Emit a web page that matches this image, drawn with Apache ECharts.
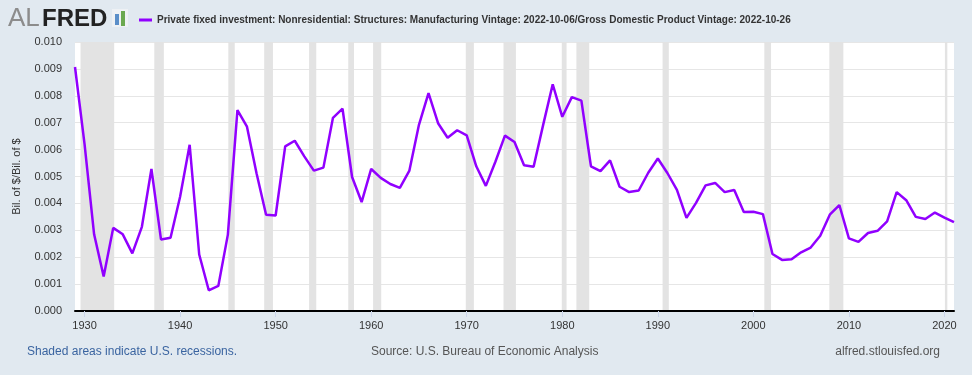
<!DOCTYPE html>
<html>
<head>
<meta charset="utf-8">
<script src="https://cdn.jsdelivr.net/npm/echarts@6/dist/echarts.min.js"></script>
<style>
  html, body { margin: 0; padding: 0; background: #e1e9f0; }
  #chart { width: 972px; height: 375px; }
</style>
</head>
<body>
<div id="chart"></div>
<script>
const seriesName = "Private fixed investment: Nonresidential: Structures: Manufacturing Vintage: 2022-10-06/Gross Domestic Product Vintage: 2022-10-26";

const years = [];
for (let y = 1929; y <= 2021; y++) years.push(y);

// ratio (units of 0.001)
const ratio = [
  9.07, 6.2, 2.85, 1.28, 3.09, 2.85, 2.14, 3.13, 5.28, 2.66,
  2.72, 4.25, 6.18, 2.10, 0.77, 0.93, 2.84, 7.47, 6.85, 5.12,
  3.58, 3.55, 6.12, 6.33, 5.75, 5.22, 5.33, 7.18, 7.52, 4.98,
  4.05, 5.28, 4.95, 4.72, 4.58, 5.22, 6.92, 8.10, 6.98, 6.44,
  6.72, 6.53, 5.38, 4.65, 5.55, 6.52, 6.28, 5.42, 5.36, 6.92,
  8.43, 7.22, 7.95, 7.82, 5.38, 5.20, 5.60, 4.62, 4.42, 4.48,
  5.14, 5.67, 5.13, 4.50, 3.46, 4.02, 4.67, 4.76, 4.42, 4.50,
  3.68, 3.69, 3.60, 2.12, 1.90, 1.92, 2.18, 2.36, 2.80, 3.58,
  3.94, 2.70, 2.57, 2.90, 2.98, 3.33, 4.42, 4.12, 3.50, 3.42,
  3.66, 3.47, 3.30
];

const recessions = [
  [1929.58, 1933.1], [1937.3, 1938.3], [1945.05, 1945.72], [1948.8, 1949.72],
  [1953.5, 1954.25], [1957.6, 1958.2], [1960.2, 1961.05], [1969.9, 1970.75],
  [1973.85, 1975.15], [1979.95, 1980.45], [1981.48, 1982.82], [1990.5, 1991.15],
  [2001.15, 2001.85], [2007.95, 2009.42], [2020.05, 2020.3]
];

const xTicks = [1930, 1940, 1950, 1960, 1970, 1980, 1990, 2000, 2010, 2020];

const chart = echarts.init(document.getElementById('chart'), null, { renderer: 'canvas' });

chart.setOption({
  backgroundColor: '#e1e9f0',
  animation: false,
  textStyle: { fontFamily: 'Liberation Sans, Arial, sans-serif' },
  legend: {
    left: 134,
    top: 10,
    icon: 'rect',
    itemWidth: 13,
    itemHeight: 3,
    itemGap: 5,
    textStyle: { fontSize: 10, fontWeight: 'bold', color: '#333' },
    data: [seriesName]
  },
  grid: { left: 75, right: 18, top: 42, bottom: 64, backgroundColor: '#fff', show: true, borderWidth: 0 },
  xAxis: {
    type: 'value',
    min: 1929,
    max: 2021,
    z: 10,
    axisLine: { lineStyle: { color: '#000', width: 2 } },
    axisTick: { show: true, customValues: xTicks, length: 6, lineStyle: { color: '#ccd6eb' } },
    axisLabel: {
      customValues: xTicks,
      formatter: v => String(v),
      color: '#333', fontSize: 11, margin: 9
    },
    splitLine: { show: false }
  },
  yAxis: {
    type: 'value',
    min: 0,
    max: 0.010,
    interval: 0.001,
    name: 'Bil. of $/Bil. of $',
    nameLocation: 'middle',
    nameGap: 53,
    nameTextStyle: { color: '#333', fontSize: 11 },
    axisLine: { show: false },
    axisTick: { show: false },
    axisLabel: { formatter: v => v.toFixed(3), color: '#333', fontSize: 11, margin: 13 },
    splitLine: { lineStyle: { color: '#e6e6e6', width: 1 } }
  },
  series: [{
    name: seriesName,
    type: 'line',
    data: years.map((y, i) => [y, ratio[i] / 1000]),
    showSymbol: false,
    color: '#9100ff',
    lineStyle: { width: 2.5, color: '#9100ff' },
    markArea: {
      silent: true,
      itemStyle: { color: '#e3e3e3' },
      data: recessions.map(r => [{ xAxis: r[0] }, { xAxis: r[1] }])
    },
    z: 3
  }],
  graphic: [
    { type: 'text', left: 8, top: 6, style: { text: 'AL', font: '26px "Liberation Sans", Arial', fill: '#8c8c8c' } },
    { type: 'text', left: 42, top: 7, style: { text: 'FRED', font: 'bold 24px "Liberation Sans", Arial', fill: '#222' } },
    { type: 'rect', shape: { x: 112, y: 9, width: 16, height: 18 }, style: { fill: '#eef1f4' } },
    { type: 'rect', shape: { x: 115, y: 14, width: 4, height: 11 }, style: { fill: '#5a8ec8' } },
    { type: 'rect', shape: { x: 121, y: 11, width: 4, height: 15 }, style: { fill: '#6aa84f' } },
    { type: 'text', left: 27, top: 346, style: { text: 'Shaded areas indicate U.S. recessions.', font: '12px "Liberation Sans", Arial', fill: '#3a64a0' } },
    { type: 'text', left: 371, top: 346, style: { text: 'Source: U.S. Bureau of Economic Analysis', font: '12px "Liberation Sans", Arial', fill: '#555' } },
    { type: 'text', right: 32, top: 346, style: { text: 'alfred.stlouisfed.org', font: '12px "Liberation Sans", Arial', fill: '#555' } }
  ]
});
</script>
</body>
</html>
